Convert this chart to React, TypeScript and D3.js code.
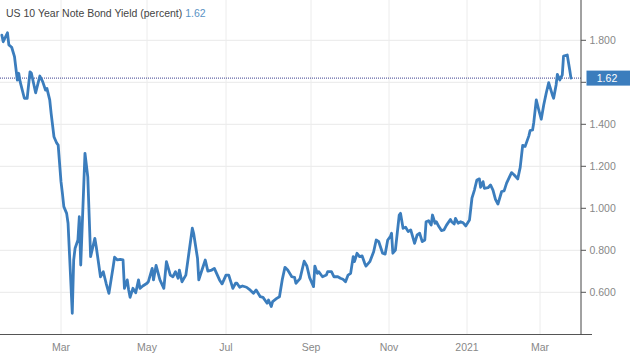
import React from "react";
import * as d3 from "d3";

const dates: string[] = [
  "2020-01-19","2020-01-20","2020-01-23","2020-01-24","2020-01-26","2020-01-28","2020-01-30","2020-01-31",
  "2020-02-01","2020-02-04","2020-02-06","2020-02-08","2020-02-09","2020-02-12","2020-02-15","2020-02-17",
  "2020-02-19","2020-02-20","2020-02-22","2020-02-23","2020-02-25","2020-02-27","2020-02-28","2020-03-01",
  "2020-03-02","2020-03-03","2020-03-05","2020-03-06","2020-03-09","2020-03-10","2020-03-11","2020-03-13",
  "2020-03-14","2020-03-15","2020-03-18","2020-03-20","2020-03-22","2020-03-25","2020-03-26","2020-03-29",
  "2020-03-31","2020-04-02","2020-04-04","2020-04-07","2020-04-08","2020-04-10","2020-04-12","2020-04-14",
  "2020-04-15","2020-04-17","2020-04-18","2020-04-19","2020-04-21","2020-04-23","2020-04-25","2020-04-26",
  "2020-04-28","2020-05-01","2020-05-02","2020-05-05","2020-05-06","2020-05-08","2020-05-11","2020-05-14",
  "2020-05-16","2020-05-19","2020-05-21","2020-05-23","2020-05-25","2020-05-26","2020-05-28","2020-05-31",
  "2020-06-05","2020-06-06","2020-06-09","2020-06-10","2020-06-12","2020-06-15","2020-06-17","2020-06-20",
  "2020-06-22","2020-06-26","2020-06-28","2020-07-01","2020-07-03","2020-07-06","2020-07-08","2020-07-09",
  "2020-07-11","2020-07-13","2020-07-16","2020-07-18","2020-07-21","2020-07-23","2020-07-26","2020-07-28",
  "2020-07-31","2020-08-01","2020-08-03","2020-08-04","2020-08-07","2020-08-09","2020-08-11","2020-08-13",
  "2020-08-15","2020-08-18","2020-08-20","2020-08-21","2020-08-24","2020-08-27","2020-08-29","2020-08-31",
  "2020-09-03","2020-09-04","2020-09-06","2020-09-07","2020-09-10","2020-09-13","2020-09-14","2020-09-17",
  "2020-09-19","2020-09-22","2020-09-24","2020-09-26","2020-09-28","2020-09-30","2020-10-02","2020-10-04",
  "2020-10-05","2020-10-07","2020-10-09","2020-10-11","2020-10-13","2020-10-14","2020-10-17","2020-10-20",
  "2020-10-22","2020-10-24","2020-10-27","2020-10-29","2020-10-31","2020-11-02","2020-11-03","2020-11-04",
  "2020-11-06","2020-11-09","2020-11-10","2020-11-12","2020-11-14","2020-11-16","2020-11-18","2020-11-21",
  "2020-11-23","2020-11-25","2020-11-27","2020-11-29","2020-11-30","2020-12-02","2020-12-04","2020-12-05",
  "2020-12-07","2020-12-08","2020-12-10","2020-12-12","2020-12-14","2020-12-16","2020-12-19","2020-12-20",
  "2020-12-22","2020-12-23","2020-12-25","2020-12-27","2020-12-29","2020-12-31","2021-01-03","2021-01-05",
  "2021-01-07","2021-01-09","2021-01-11","2021-01-12","2021-01-14","2021-01-15","2021-01-18","2021-01-20",
  "2021-01-22","2021-01-24","2021-01-26","2021-01-29","2021-01-31","2021-02-02","2021-02-06","2021-02-08",
  "2021-02-11","2021-02-13","2021-02-15","2021-02-17","2021-02-20","2021-02-21","2021-02-23","2021-02-24",
  "2021-02-26","2021-02-28","2021-03-02","2021-03-04","2021-03-06","2021-03-08","2021-03-11","2021-03-12",
  "2021-03-14","2021-03-15","2021-03-17","2021-03-19","2021-03-20","2021-03-23","2021-03-25","2021-03-26",
];

const yields: number[] = [
  1.825,1.793,1.836,1.778,1.767,1.722,1.611,1.643,
  1.603,1.524,1.524,1.650,1.643,1.550,1.630,1.603,
  1.563,1.571,1.516,1.452,1.341,1.310,1.301,1.127,
  1.071,1.008,0.976,0.929,0.500,0.754,0.810,0.849,
  0.960,0.730,1.262,1.150,0.770,0.857,0.817,0.674,
  0.698,0.643,0.595,0.722,0.767,0.754,0.757,0.754,
  0.619,0.659,0.611,0.576,0.619,0.598,0.659,0.619,
  0.630,0.643,0.650,0.714,0.659,0.728,0.659,0.619,
  0.746,0.682,0.674,0.698,0.667,0.706,0.650,0.682,
  0.905,0.881,0.762,0.659,0.698,0.754,0.701,0.706,
  0.714,0.659,0.640,0.682,0.682,0.619,0.643,0.643,
  0.624,0.630,0.624,0.614,0.595,0.611,0.579,0.576,
  0.548,0.563,0.532,0.556,0.571,0.579,0.659,0.719,
  0.706,0.674,0.671,0.643,0.665,0.748,0.725,0.670,
  0.627,0.725,0.690,0.698,0.674,0.682,0.698,0.698,
  0.674,0.674,0.667,0.662,0.650,0.682,0.690,0.770,
  0.746,0.786,0.770,0.773,0.738,0.725,0.746,0.793,
  0.849,0.841,0.786,0.782,0.849,0.865,0.881,0.786,
  0.801,0.968,0.976,0.905,0.910,0.889,0.897,0.833,
  0.873,0.881,0.841,0.849,0.936,0.941,0.920,0.968,
  0.929,0.936,0.913,0.894,0.897,0.920,0.947,0.936,
  0.925,0.952,0.929,0.936,0.931,0.916,0.944,1.048,
  1.087,1.135,1.140,1.100,1.127,1.095,1.098,1.111,
  1.087,1.043,1.020,1.080,1.083,1.120,1.170,1.160,
  1.140,1.195,1.300,1.295,1.345,1.370,1.373,1.410,
  1.516,1.468,1.424,1.492,1.548,1.598,1.540,1.524,
  1.587,1.638,1.611,1.635,1.725,1.730,1.659,1.620,
];

const lastValue = 1.62;
const yTicks: number[] = [0.6, 0.8, 1.0, 1.2, 1.4, 1.6, 1.8];
const xTickDates: string[] = ["2020-03-01","2020-05-01","2020-07-01","2020-09-01","2020-11-01","2021-01-01","2021-03-01"];
const scaleBreakDates: string[] = ["2020-01-18","2020-03-01","2020-05-01","2020-07-01","2020-09-01","2020-11-01","2021-01-01","2021-03-01","2021-04-01"];
const scaleBreakPixels: number[] = [0.4, 61, 147, 226, 311, 389, 467, 540, 578.4];

const W = 630, H = 354;
const plotRight = 581, plotBottom = 334.5, plotTop = 0;
const FONT = "'Liberation Sans', Arial, Helvetica, sans-serif";

export default function App() {
  const parse = d3.timeParse("%Y-%m-%d");
  const data = dates.map((d, i) => ({ date: parse(d) as Date, value: yields[i] }));
  const x = d3.scaleTime<number>()
    .domain(scaleBreakDates.map(d => parse(d) as Date))
    .range(scaleBreakPixels);
  const y = d3.scaleLinear().domain([0.6, 1.8]).range([292.3, 40.3]);
  const line = d3.line<{ date: Date; value: number }>()
    .x(d => x(d.date))
    .y(d => y(d.value));
  const fmt = (d: Date) => (d.getMonth() === 0 ? d3.timeFormat("%Y")(d) : d3.timeFormat("%b")(d));
  const xTicks = xTickDates.map(d => parse(d) as Date);
  const yLast = y(lastValue);
  // labels hidden behind the last-value badge are not drawn
  const visibleLabelTicks = yTicks.filter(t => Math.abs(y(t) - yLast) > 12);

  return (
    <svg width={W} height={H} style={{ position: "absolute", left: 0, top: 0, background: "#fff" }} fontFamily={FONT}>
      <defs>
        <clipPath id="plotclip">
          <rect x={0} y={plotTop} width={plotRight} height={plotBottom - plotTop} />
        </clipPath>
      </defs>
      {yTicks.map(t => (
        <line key={"hg" + t} x1={0} x2={plotRight} y1={y(t)} y2={y(t)} stroke="#e9e9e9" strokeWidth={1} />
      ))}
      {xTicks.map(t => (
        <line key={"vg" + t.getTime()} x1={x(t)} x2={x(t)} y1={plotTop} y2={plotBottom} stroke="#ececec" strokeWidth={1} />
      ))}
      <line x1={0} x2={plotRight} y1={yLast} y2={yLast} stroke="#3c3f8f" strokeWidth={1} strokeDasharray="1,1" />
      <path d={line(data) || ""} fill="none" stroke="#3b7dbd" strokeWidth={2.8} strokeLinejoin="round" strokeLinecap="round" clipPath="url(#plotclip)" />
      <line x1={0} x2={592} y1={plotBottom} y2={plotBottom} stroke="#555" strokeWidth={1} />
      <line x1={plotRight} x2={plotRight} y1={0} y2={plotBottom} stroke="#444" strokeWidth={1} />
      {yTicks.map(t => (
        <line key={"ytm" + t} x1={plotRight} x2={plotRight + 5} y1={y(t)} y2={y(t)} stroke="#555" strokeWidth={1} />
      ))}
      {visibleLabelTicks.map(t => (
        <text key={"yt" + t} x={589.5} y={y(t)} dy="0.35em" fontSize={10.5} fill="#888">{d3.format(".3f")(t)}</text>
      ))}
      {xTicks.map(t => (
        <text key={"xt" + t.getTime()} x={x(t)} y={347} dy="0.35em" textAnchor="middle" fontSize={10.5} fill="#888">{fmt(t)}</text>
      ))}
      <rect x={586.5} y={yLast - 7.5} width={W - 586.5} height={15} fill="#3b7dbd" />
      <text x={607} y={yLast} dy="0.35em" textAnchor="middle" fontSize={10.5} fill="#fff">{lastValue.toFixed(2)}</text>
      <text x={6} y={16.5} fontSize={10.5} fill="#444">
        US 10 Year Note Bond Yield (percent) <tspan fill="#5b93c4">{lastValue.toFixed(2)}</tspan>
      </text>
    </svg>
  );
}
